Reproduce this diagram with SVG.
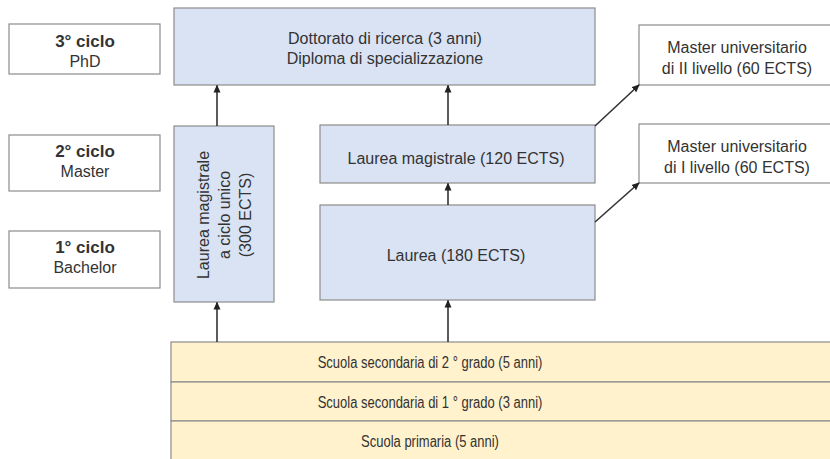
<svg xmlns="http://www.w3.org/2000/svg" width="830" height="459" viewBox="0 0 830 459">
<style>
text{font-family:"Liberation Sans",Arial,sans-serif;font-size:16px;fill:#333;text-anchor:middle}
.b{font-weight:bold;font-size:17px}
.s{font-size:13px}
.w{fill:#fff;stroke:#8c8c8c;stroke-width:1.2}
.blue{fill:#dae3f3;stroke:#8c8c8c;stroke-width:1.2}
.y{fill:#fff2cc;stroke:#8c8c8c;stroke-width:1.2}
.c{stroke:#333;stroke-width:1.6;fill:none;marker-end:url(#a)}
</style>
<defs><marker id="a" markerWidth="8" markerHeight="8" refX="7" refY="4" orient="auto" markerUnits="userSpaceOnUse"><path d="M0,0.5 L8,4 L0,7.5 z" fill="#222"/></marker></defs>
<rect width="830" height="459" fill="#fff"/>
<g id="ciclo3"><rect class="w" x="9" y="24" width="151" height="50"/><text class="b" x="85" y="47">3° ciclo</text><text x="85" y="67">PhD</text></g>
<g id="ciclo2"><rect class="w" x="9" y="135" width="151" height="56"/><text class="b" x="85" y="157">2° ciclo</text><text x="85" y="177">Master</text></g>
<g id="ciclo1"><rect class="w" x="9" y="231" width="151" height="57"/><text class="b" x="85" y="253">1° ciclo</text><text x="85" y="273">Bachelor</text></g>
<g id="dottorato"><rect class="blue" x="174" y="8" width="421" height="77"/><text x="385" y="44">Dottorato di ricerca (3 anni)</text><text x="385" y="64">Diploma di specializzazione</text></g>
<g id="ciclounico"><rect class="blue" x="174" y="126" width="100" height="176"/><g transform="translate(225,215) rotate(-90)"><text x="0" y="-16">Laurea magistrale</text><text x="0" y="5">a ciclo unico</text><text x="0" y="26">(300 ECTS)</text></g></g>
<g id="magistrale"><rect class="blue" x="320" y="125" width="275" height="58"/><text x="456" y="164">Laurea magistrale (120 ECTS)</text></g>
<g id="laurea"><rect class="blue" x="320" y="205" width="275" height="95"/><text x="456" y="261">Laurea (180 ECTS)</text></g>
<g id="master2"><rect class="w" x="639" y="25" width="200" height="60"/><text x="737" y="53">Master universitario</text><text x="737" y="74">di II livello (60 ECTS)</text></g>
<g id="master1"><rect class="w" x="639" y="124" width="200" height="59"/><text x="737" y="152">Master universitario</text><text x="737" y="173">di I livello (60 ECTS)</text></g>
<g id="sec2"><rect class="y" x="171" y="342" width="670" height="40"/><text class="s" transform="translate(430,368) scale(1,1.25)">Scuola secondaria di 2 ° grado (5 anni)</text></g>
<g id="sec1"><rect class="y" x="171" y="382" width="670" height="39"/><text class="s" transform="translate(430,408) scale(1,1.25)">Scuola secondaria di 1 ° grado (3 anni)</text></g>
<g id="primaria"><rect class="y" x="171" y="421" width="670" height="40"/><text class="s" transform="translate(430,447) scale(1,1.25)">Scuola primaria (5 anni)</text></g>
<g id="connectors">
<line class="c" x1="217" y1="342" x2="217" y2="302.5"/>
<line class="c" x1="448" y1="342" x2="448" y2="300.5"/>
<line class="c" x1="448" y1="205" x2="448" y2="183.5"/>
<line class="c" x1="448" y1="125" x2="448" y2="85.5"/>
<line class="c" x1="217" y1="126" x2="217" y2="85.5"/>
<line class="c" x1="595" y1="126" x2="639" y2="85"/>
<line class="c" x1="595" y1="222" x2="639" y2="183"/>
</g>
</svg>
